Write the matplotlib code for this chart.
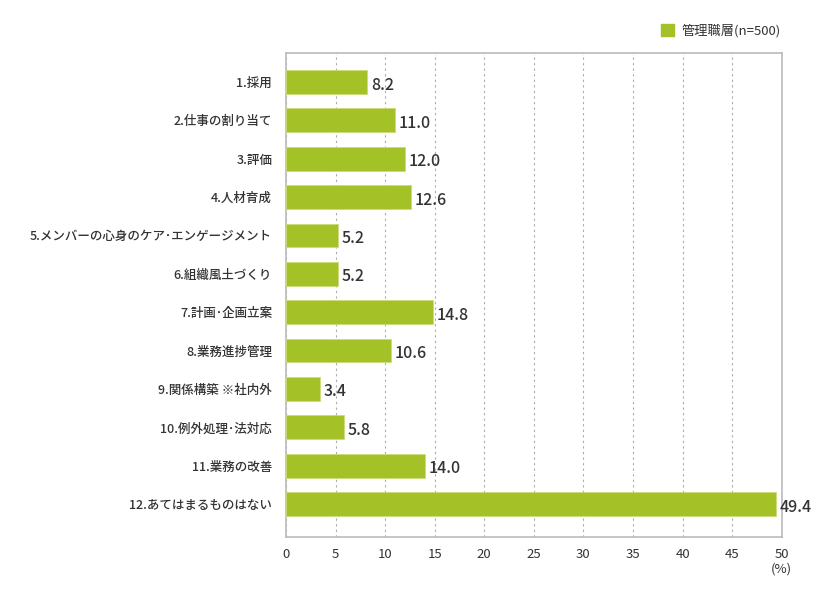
import numpy as np
import matplotlib.pyplot as plt
from matplotlib.patches import Patch

plt.rcParams['font.family'] = ['Noto Sans CJK JP', 'DejaVu Sans']

categories = [
    "1.採用",
    "2.仕事の割り当て",
    "3.評価",
    "4.人材育成",
    "5.メンバーの心身のケア･エンゲージメント",
    "6.組織風土づくり",
    "7.計画･企画立案",
    "8.業務進捗管理",
    "9.関係構築 ※社内外",
    "10.例外処理･法対応",
    "11.業務の改善",
    "12.あてはまるものはない",
]
values = [8.2, 11.0, 12.0, 12.6, 5.2, 5.2, 14.8, 10.6, 3.4, 5.8, 14.0, 49.4]
xticks = [0, 5, 10, 15, 20, 25, 30, 35, 40, 45, 50]
series_name = "管理職層(n=500)"

bar_color = "#a4c127"
text_color = "#333333"

fig = plt.figure(figsize=(8.16, 5.91), dpi=100)
ax = fig.add_axes([0.3505, 0.0914, 0.6075, 0.8186])

y = np.arange(len(categories))
ax.barh(y, values, height=0.62, color=bar_color, edgecolor="#c9dc7a", linewidth=0.6, zorder=3)

for yi, v in zip(y, values):
    ax.text(v + 0.4, yi + 0.08, f"{v:.1f}", va="center", ha="left",
            fontsize=11.5, fontweight="medium", color=text_color, zorder=4)

ax.set_yticks(y)
ax.set_yticklabels(categories, fontsize=9, fontweight="medium", color=text_color)
ax.set_ylim(11.86, -0.75)
ax.set_xlim(0, 50)
ax.set_xticks(xticks)
ax.set_xticklabels([str(t) for t in xticks], fontsize=9.5, color=text_color)
ax.tick_params(axis="both", length=0, pad=8)
ax.tick_params(axis="y", pad=10)

ax.xaxis.grid(True, linestyle=(0, (2, 3)), color="#aaaaaa", linewidth=0.8, zorder=0)
ax.yaxis.grid(False)
for s in ax.spines.values():
    s.set_color("#bbbbbb")
    s.set_linewidth(1.2)

fig.text(0.958, 0.038, "(%)", ha="center", va="center", fontsize=9.5, color=text_color)

handles = [Patch(facecolor=bar_color, edgecolor=bar_color)]
fig.legend(handles, [series_name], loc="center left", bbox_to_anchor=(0.795, 0.948),
           frameon=False, fontsize=9.5, handlelength=1.0, handleheight=1.0,
           handletextpad=0.6, labelcolor=text_color)

fig.savefig("out.png", dpi=100)
